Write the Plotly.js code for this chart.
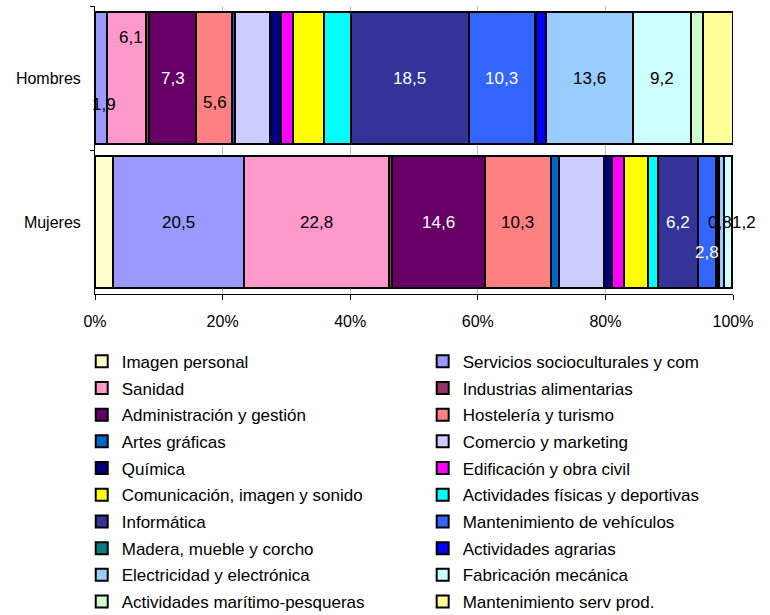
<!DOCTYPE html>
<html><head><meta charset="utf-8">
<script src="https://cdn.plot.ly/plotly-3.0.1.min.js"></script>
<style>html,body{margin:0;padding:0;background:#fff}</style>
</head><body><div id="chart" style="width:770px;height:615px"></div>
<script>
const categories = ['Hombres', 'Mujeres'];
const seriesNames = [
  'Imagen personal', 'Servicios socioculturales y com',
  'Sanidad', 'Industrias alimentarias',
  'Administración y gestión', 'Hostelería y turismo',
  'Artes gráficas', 'Comercio y marketing',
  'Química', 'Edificación y obra civil',
  'Comunicación, imagen y sonido', 'Actividades físicas y deportivas',
  'Informática', 'Mantenimiento de vehículos',
  'Madera, mueble y corcho', 'Actividades agrarias',
  'Electricidad y electrónica', 'Fabricación mecánica',
  'Actividades marítimo-pesqueras', 'Mantenimiento serv prod.'
];
const colors = [
  '#FFFFCC', '#9999FF', '#FF99CC', '#993366', '#660066', '#FF8080',
  '#0066CC', '#CCCCFF', '#000080', '#FF00FF', '#FFFF00', '#00FFFF',
  '#333399', '#3366FF', '#008080', '#0000FF', '#99CCFF', '#CCFFFF',
  '#CCFFCC', '#FFFF99'
];
const hombres = [0, 1.9, 6.1, 0.5, 7.3, 5.6, 0.5, 5.5, 1.7, 1.9, 4.8, 4.2, 18.5, 10.3, 0.2, 1.5, 13.6, 9.2, 1.8, 4.7];
const mujeres = [2.8, 20.5, 22.8, 0.4, 14.6, 10.3, 1.3, 7.1, 1.3, 1.8, 3.8, 1.6, 6.2, 2.8, 0.2, 0.3, 0.8, 1.2, 0, 0.2];
const tickValues = [0, 20, 40, 60, 80, 100];
const tickLabels = ['0%', '20%', '40%', '60%', '80%', '100%'];

// which series carry a value label, and styling of those labels
const labeledSeries = [1, 2, 4, 5, 12, 13, 16, 17];
const whiteLabelSeries = [4, 12, 13];
const labelOffsets = {
  'Hombres': {1: [3, -26], 2: [4, 41], 5: [1, -24]},
  'Mujeres': {13: [0, -30], 16: [-2, 0], 17: [16, 0]}
};

const FONT = 'Liberation Sans, Arial, sans-serif';
const dataByCat = [hombres, mujeres];

const traces = seriesNames.map((name, i) => ({
  type: 'bar',
  orientation: 'h',
  name: name,
  y: categories,
  x: [hombres[i], mujeres[i]],
  marker: {color: colors[i], line: {color: '#000000', width: 2}},
  legend: i % 2 === 0 ? 'legend' : 'legend2',
  legendgroup: 'g' + i,
  hoverinfo: 'name+x'
}));

const annotations = [];
categories.forEach((cat, j) => {
  const vals = dataByCat[j];
  const total = vals.reduce((a, b) => a + b, 0);
  let cum = 0;
  vals.forEach((v, i) => {
    if (labeledSeries.includes(i) && v > 0) {
      const off = (labelOffsets[cat] && labelOffsets[cat][i]) || [0, 0];
      annotations.push({
        xref: 'x', yref: 'y',
        x: (cum + v / 2) / total * 100,
        y: cat,
        text: v.toFixed(1).replace('.', ','),
        showarrow: false,
        xshift: off[0], yshift: off[1],
        font: {family: FONT, size: 17, color: whiteLabelSeries.includes(i) ? '#FFFFFF' : '#000000'}
      });
    }
    cum += v;
  });
});

const legendCommon = {
  orientation: 'v', xanchor: 'left', yanchor: 'top',
  font: {family: FONT, size: 17, color: '#000'},
  bgcolor: 'rgba(0,0,0,0)', borderwidth: 0,
  traceorder: 'grouped', tracegroupgap: 1.6
};

const layout = {
  width: 770, height: 615,
  margin: {l: 95, r: 37, t: 6, b: 321, autoexpand: false},
  paper_bgcolor: '#ffffff', plot_bgcolor: '#ffffff',
  barmode: 'stack', barnorm: 'percent', bargap: 0.083,
  font: {family: FONT, size: 16, color: '#000'},
  showlegend: true,
  xaxis: {
    range: [0, 100], tickvals: tickValues, ticktext: tickLabels,
    ticks: 'outside', ticklen: 5, tickcolor: '#000',
    showline: true, linecolor: '#000', linewidth: 1,
    showgrid: true, gridcolor: '#C0C0C0', gridwidth: 1, zeroline: false,
    ticklabelstandoff: 8,
    tickfont: {family: FONT, size: 16, color: '#000'},
    fixedrange: true
  },
  yaxis: {
    autorange: 'reversed', type: 'category',
    ticks: 'outside', ticklen: 4, tickcolor: '#000', tickson: 'boundaries',
    showline: true, linecolor: '#000', linewidth: 1,
    showgrid: false, zeroline: false,
    ticklabelstandoff: 10,
    tickfont: {family: FONT, size: 16, color: '#000'},
    fixedrange: true
  },
  legend: Object.assign({x: -0.0208, y: -0.1725}, legendCommon),
  legend2: Object.assign({x: 0.5136, y: -0.1725}, legendCommon),
  annotations: annotations
};

Plotly.newPlot('chart', traces, layout, {displayModeBar: false, staticPlot: true});
</script></body></html>
